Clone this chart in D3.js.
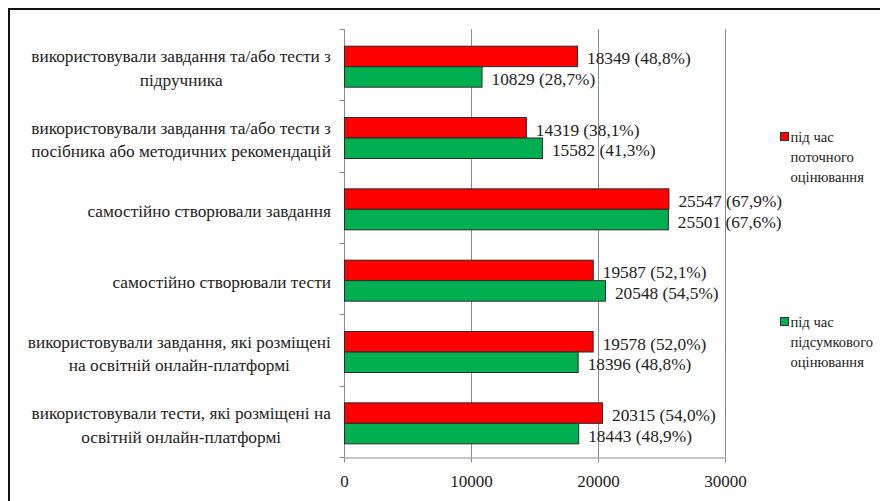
<html>
<head>
<meta charset="utf-8">
<script src="https://d3js.org/d3.v7.min.js"></script>
<style>
 body { margin: 0; background: #fff; }
 .grid line { stroke: #8c8c8c; }
</style>
</head>
<body>
<script>
// chart data
var categories = [
  "використовували завдання та/або тести з\nпідручника",
  "використовували завдання та/або тести з\nпосібника або методичних рекомендацій",
  "самостійно створювали завдання",
  "самостійно створювали тести",
  "використовували завдання, які розміщені\nна освітній онлайн-платформі",
  "використовували тести, які розміщені  на\nосвітній онлайн-платформі"
];
var seriesNames = ["під  час\nпоточного\nоцінювання", "під  час\nпідсумкового\nоцінювання"];
var currentValues = [18349, 14319, 25547, 19587, 19578, 20315];
var currentPct = ["48,8%", "38,1%", "67,9%", "52,1%", "52,0%", "54,0%"];
var finalValues = [10829, 15582, 25501, 20548, 18396, 18443];
var finalPct = ["28,7%", "41,3%", "67,6%", "54,5%", "48,8%", "48,9%"];
var xTicks = [0, 10000, 20000, 30000];

var w = 880, h = 501;
var plotLeft = 344, plotRight = 725, plotTop = 29, plotBottom = 457;
var colors = ["#ff0000", "#00b050"];
var serif = "'Liberation Serif', 'Times New Roman', serif";

var svg = d3.select("body").append("svg")
            .attr("width", w)
            .attr("height", h)
            .style("font-family", serif);

// outer frame (runs past the right/bottom edge)
svg.append("rect")
   .attr("x", 9).attr("y", 9)
   .attr("width", 960).attr("height", 560)
   .attr("fill", "none")
   .attr("stroke", "#111")
   .attr("stroke-width", 2);

var x = d3.scaleLinear().domain([0, 30000]).range([plotLeft, plotRight]);
var y = d3.scaleBand().domain(categories).range([plotTop, plotBottom]);
var ySub = d3.scaleBand().domain([0, 1])
             .range([2, y.bandwidth() + 2])
             .paddingOuter(0.74);

// vertical gridlines
svg.append("g").attr("class", "grid")
   .selectAll("line")
   .data(xTicks.slice(1))
   .enter().append("line")
   .attr("x1", function(d) { return Math.round(x(d)) + 0.5; })
   .attr("x2", function(d) { return Math.round(x(d)) + 0.5; })
   .attr("y1", plotTop)
   .attr("y2", plotBottom);

// x axis
var xAxis = svg.append("g")
   .attr("transform", "translate(0," + (plotBottom + 0.5) + ")")
   .call(d3.axisBottom(x).tickValues(xTicks).tickSize(5).tickPadding(12)
           .tickFormat(d3.format("d")).tickSizeOuter(0));
xAxis.attr("font-family", null).attr("font-size", null);
xAxis.select(".domain").attr("stroke", "#8c8c8c");
xAxis.selectAll(".tick line").attr("stroke", "#8c8c8c");
xAxis.selectAll(".tick text")
     .style("font-family", serif)
     .style("font-size", "17px")
     .attr("fill", "#222");

// y axis (category separators)
var yAxis = svg.append("g")
   .attr("transform", "translate(" + (plotLeft + 0.5) + ",0)");
yAxis.append("line")
     .attr("y1", plotTop).attr("y2", plotBottom)
     .attr("stroke", "#8c8c8c");
yAxis.selectAll(".sep")
     .data(d3.range(categories.length + 1))
     .enter().append("line")
     .attr("class", "sep")
     .attr("x1", -5).attr("x2", 0)
     .attr("y1", function(i) { return Math.round(plotTop + i * y.step()) + 0.5; })
     .attr("y2", function(i) { return Math.round(plotTop + i * y.step()) + 0.5; })
     .attr("stroke", "#8c8c8c");

// bars
var rows = categories.map(function(c, i) {
  return { cat: c, vals: [currentValues[i], finalValues[i]], pct: [currentPct[i], finalPct[i]] };
});

var groups = svg.selectAll(".row")
   .data(rows)
   .enter().append("g")
   .attr("class", "row")
   .attr("transform", function(d) { return "translate(0," + y(d.cat) + ")"; });

groups.selectAll("rect")
   .data(function(d) { return d.vals.map(function(v, k) { return { v: v, k: k }; }); })
   .enter().append("rect")
   .attr("x", x(0) + 0.5)
   .attr("y", function(d) { return ySub(d.k); })
   .attr("width", function(d) { return x(d.v) - x(0); })
   .attr("height", ySub.bandwidth())
   .attr("fill", function(d) { return colors[d.k]; })
   .attr("stroke", "#2b2b2b")
   .attr("stroke-width", 1);

groups.selectAll(".val")
   .data(function(d) { return d.vals.map(function(v, k) { return { v: v, k: k, p: d.pct[k] }; }); })
   .enter().append("text")
   .attr("class", "val")
   .attr("x", function(d) { return x(d.v) + 10; })
   .attr("y", function(d) { return ySub(d.k) + ySub.bandwidth() / 2 + 2; })
   .attr("dy", "0.35em")
   .attr("fill", "#222")
   .style("font-size", "17.3px")
   .text(function(d) { return d.v + " (" + d.p + ")"; });

// category labels: block right-aligned to axis, lines centred inside
groups.each(function(d) {
  var g = d3.select(this);
  var lines = d.cat.split("\n");
  var lh = 23.5;
  var t = g.append("text")
           .attr("text-anchor", "middle")
           .attr("fill", "#222")
           .style("font-size", "17.3px");
  var cy = y.bandwidth() / 2 + 3.5 - (lines.length - 1) * lh / 2;
  lines.forEach(function(l, i) {
    t.append("tspan").attr("x", 0).attr("y", cy + i * lh).attr("dy", "0.35em").text(l);
  });
  var bw = t.node().getBBox().width;
  t.attr("transform", "translate(" + (plotLeft - 13 - bw / 2) + ",0)");
});

// legend
var legendY = [137, 322];
seriesNames.forEach(function(name, k) {
  var lg = svg.append("g").attr("transform", "translate(780," + legendY[k] + ")");
  lg.append("rect")
    .attr("x", 0.5).attr("y", -4.5)
    .attr("width", 8).attr("height", 8)
    .attr("fill", colors[k])
    .attr("stroke", "#333");
  var t = lg.append("text").attr("fill", "#222").style("font-size", "14.6px");
  name.split("\n").forEach(function(l, i) {
    t.append("tspan").attr("x", 10.5).attr("y", i * 20).attr("dy", "0.35em").text(l);
  });
});
</script>
</body>
</html>
